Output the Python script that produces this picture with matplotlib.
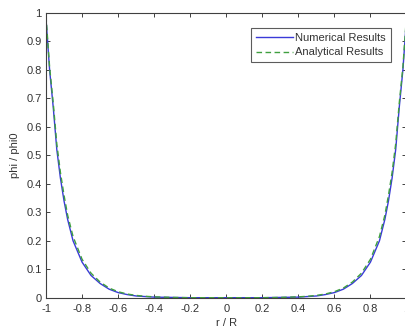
import matplotlib
matplotlib.use("Agg")
import matplotlib.pyplot as plt
import numpy as np

# r / R sample positions
r_values = [-1.0, -0.98, -0.96, -0.94, -0.92, -0.90, -0.88, -0.85, -0.80, -0.75,
            -0.70, -0.65, -0.60, -0.55, -0.50, -0.45, -0.40, -0.30, -0.20, -0.10,
            0.0,
            0.10, 0.20, 0.30, 0.40, 0.45, 0.50, 0.55, 0.60, 0.65, 0.70,
            0.75, 0.80, 0.85, 0.88, 0.90, 0.92, 0.94, 0.96, 0.98, 1.0]

numerical = [0.98, 0.80, 0.67, 0.52, 0.42, 0.34, 0.275, 0.20, 0.125, 0.078,
             0.050, 0.030, 0.018, 0.011, 0.006, 0.004, 0.002, 0.001, 0.0, 0.0,
             0.0,
             0.0, 0.0, 0.001, 0.002, 0.004, 0.006, 0.011, 0.018, 0.030, 0.050,
             0.078, 0.125, 0.20, 0.275, 0.34, 0.42, 0.52, 0.67, 0.80, 0.98]

analytical = [0.99, 0.81, 0.685, 0.54, 0.44, 0.36, 0.29, 0.215, 0.135, 0.086,
              0.055, 0.034, 0.021, 0.013, 0.008, 0.005, 0.003, 0.001, 0.0, 0.0,
              0.0,
              0.0, 0.0, 0.001, 0.003, 0.005, 0.008, 0.013, 0.021, 0.034, 0.055,
              0.086, 0.135, 0.215, 0.29, 0.36, 0.44, 0.54, 0.685, 0.81, 0.99]

x_ticks = [-1, -0.8, -0.6, -0.4, -0.2, 0, 0.2, 0.4, 0.6, 0.8, 1]
x_tick_labels = ["-1", "-0.8", "-0.6", "-0.4", "-0.2", "0", "0.2", "0.4", "0.6", "0.8", "1"]
y_ticks = [0, 0.1, 0.2, 0.3, 0.4, 0.5, 0.6, 0.7, 0.8, 0.9, 1]
y_tick_labels = ["0", "0.1", "0.2", "0.3", "0.4", "0.5", "0.6", "0.7", "0.8", "0.9", "1"]

plt.rcParams['font.family'] = ['Liberation Sans', 'DejaVu Sans']

W, H = 406, 329
fig = plt.figure(figsize=(W / 100, H / 100), dpi=100)
ax = fig.add_axes([46 / W, (H - 297.7) / H, 360.5 / W, (297.7 - 13) / H])

ax.plot(r_values, numerical, color='#3a3ad8', lw=1.0, label='Numerical Results')
ax.plot(r_values, analytical, color='#3f9f3f', lw=1.0, ls=(0, (4, 2.5)), label='Analytical Results')

ax.set_xlim(-1, 1)
ax.set_ylim(0, 1)
ax.set_xticks(x_ticks)
ax.set_xticklabels(x_tick_labels)
ax.set_yticks(y_ticks)
ax.set_yticklabels(y_tick_labels)

axis_col = '#404040'
for s in ax.spines.values():
    s.set_color(axis_col)
    s.set_linewidth(0.8)
ax.tick_params(direction='in', top=True, right=True, length=3, width=0.7,
               colors=axis_col, labelsize=8, labelcolor='#333333')
ax.tick_params(axis='x', pad=4.5)
ax.tick_params(axis='y', pad=3)

ax.set_xlabel('r / R', fontsize=8, color='#333333', labelpad=3)
ax.set_ylabel('phi / phi0', fontsize=8, color='#333333', labelpad=5)

leg = ax.legend(loc='upper right', bbox_to_anchor=(391 / W, 1 - 28 / H),
                bbox_transform=fig.transFigure, borderaxespad=0,
                fontsize=8, frameon=True, fancybox=False, handlelength=3.3,
                handletextpad=0.25, borderpad=0.45, labelspacing=0.4)
leg.get_frame().set_edgecolor('#333333')
leg.get_frame().set_linewidth(0.8)
for t in leg.get_texts():
    t.set_color('#333333')

fig.savefig('out.png', dpi=100)
